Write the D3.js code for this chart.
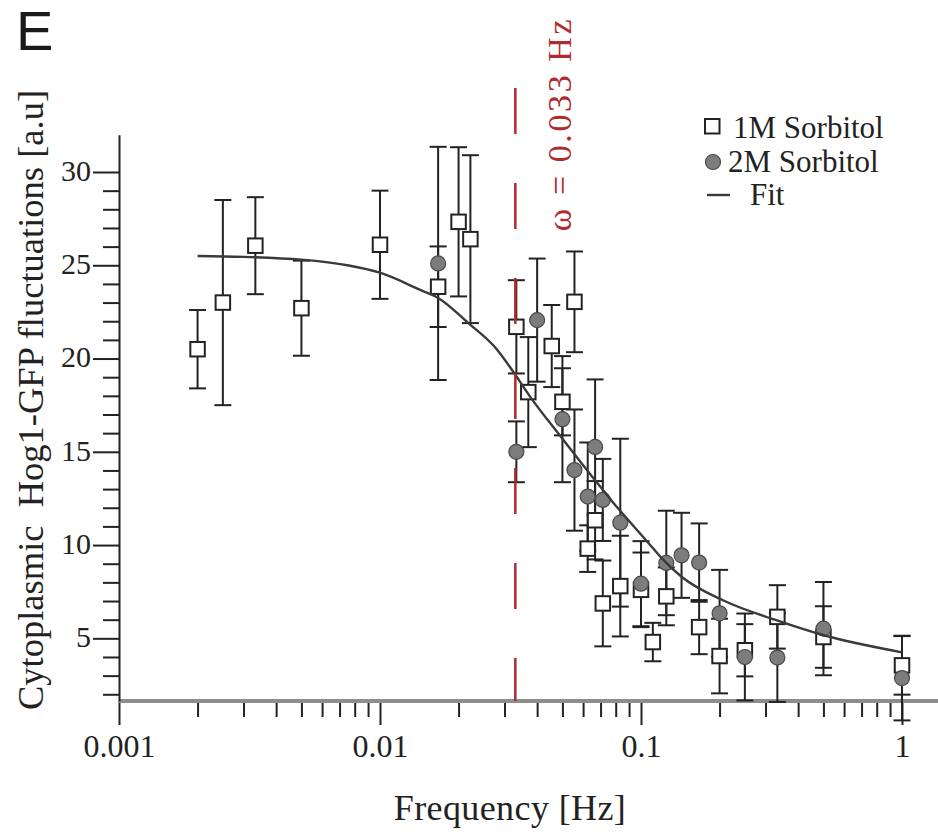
<!DOCTYPE html>
<html>
<head>
<meta charset="utf-8">
<script src="https://cdn.jsdelivr.net/npm/d3@7"></script>
<style>
  html, body { margin: 0; padding: 0; background: #fff; }
  svg { display: block; }
</style>
</head>
<body>
<svg id="chart" width="938" height="833"></svg>
<script>
// Hog1-GFP fluctuation amplitude versus stimulation frequency

// 1M sorbitol: frequency [Hz], mean, error
const freq1M = [0.002, 0.0025, 0.00333, 0.005, 0.01, 0.0167, 0.02, 0.0222, 0.0333, 0.037,
                0.0455, 0.05, 0.0556, 0.0625, 0.0667, 0.0714, 0.0833, 0.1, 0.111, 0.125,
                0.167, 0.2, 0.25, 0.333, 0.5, 1];
const mean1M = [20.5, 23.0, 26.05, 22.7, 26.1, 23.85, 27.33, 26.4, 21.7, 18.2,
                20.67, 17.68, 23.04, 9.81, 11.33, 6.87, 7.8, 7.6, 4.8, 7.25,
                5.6, 4.05, 4.36, 6.15, 5.07, 3.55];
const err1M  = [2.1, 5.5, 2.6, 2.55, 2.9, 2.16, 4.0, 4.5, 2.5, 2.95,
                2.2, 1.8, 2.7, 1.25, 2.1, 2.3, 2.7, 2.0, 1.03, 1.55,
                1.45, 2.0, 1.4, 1.7, 1.65, 1.57];

// 2M sorbitol: frequency [Hz], mean, error
const freq2M = [0.0167, 0.0333, 0.04, 0.05, 0.0556, 0.0625, 0.0667, 0.0714, 0.0833, 0.1,
                0.125, 0.143, 0.167, 0.2, 0.25, 0.333, 0.5, 1];
const mean2M = [25.1, 15.0, 22.06, 16.75, 14.02, 12.6, 15.26, 12.42, 11.2, 7.93,
                9.04, 9.45, 9.06, 6.34, 4.0, 3.97, 5.52, 2.87];
const err2M  = [6.25, 1.63, 3.3, 3.38, 3.25, 2.9, 3.62, 2.2, 4.5, 2.28,
                2.8, 2.28, 2.1, 2.33, 2.33, 2.38, 2.5, 2.27];

// fitted response curve
const fitFreq  = [0.002, 0.003, 0.005, 0.0075, 0.01, 0.0144, 0.0167, 0.0218, 0.028, 0.032,
                  0.0374, 0.05, 0.0656, 0.078, 0.107, 0.12, 0.143, 0.209, 0.3255, 0.506, 1.0];
const fitValue = [25.5, 25.45, 25.3, 25.0, 24.6, 23.65, 23.25, 21.9, 20.5, 19.4,
                  18.0, 15.7, 13.6, 12.3, 10.1, 9.3, 8.3, 7.0, 6.0, 5.15, 4.25];

// cutoff frequency
const omega = 0.033;

// axis ticks
const xMajorTicks = [0.001, 0.01, 0.1, 1];
const xTickLabels = ["0.001", "0.01", "0.1", "1"];
const yMajorTicks = [5, 10, 15, 20, 25, 30];
const yMinorTicks = [2, 3, 4, 6, 7, 8, 9, 11, 12, 13, 14, 16, 17, 18, 19, 21, 22, 23, 24, 26, 27, 28, 29];

const legendLabels = ["1M Sorbitol", "2M Sorbitol", "Fit"];

const W = 938, H = 833;
const serif = "'Liberation Serif', 'Times New Roman', serif";
const ink = "#222";

const svg = d3.select("#chart");

const x = d3.scaleLog().domain([0.001, 1]).range([119, 902]);
const y = d3.scaleLinear().domain([1.64, 32]).range([701, 134.7]);

const xMinorTicks = [];
[0.001, 0.01, 0.1].forEach(d => { for (let k = 2; k <= 9; k++) xMinorTicks.push(d * k); });

// ---- x axis ----
const xAxisG = svg.append("g").attr("transform", `translate(0,${y.range()[0]})`);
xAxisG.append("g")
  .call(d3.axisBottom(x).tickValues(xMinorTicks).tickSize(16).tickSizeOuter(0).tickFormat(""))
  .call(g => g.select(".domain").remove());
xAxisG.append("g")
  .call(d3.axisBottom(x).tickValues(xMajorTicks).tickSize(24).tickSizeOuter(0)
        .tickFormat((d, i) => xTickLabels[i]))
  .call(g => g.select(".domain").remove())
  .call(g => g.selectAll("text")
      .attr("y", 56).attr("dy", 0)
      .attr("font-family", serif).attr("font-size", 32).attr("fill", ink));
xAxisG.selectAll(".tick line").attr("stroke", ink).attr("stroke-width", 2);
xAxisG.append("line")
  .attr("x1", x.range()[0]).attr("x2", W)
  .attr("y1", 0).attr("y2", 0)
  .attr("stroke", "#8d8d8d").attr("stroke-width", 4);

// ---- y axis ----
const yAxisG = svg.append("g").attr("transform", `translate(${x.range()[0]},0)`);
yAxisG.append("g")
  .call(d3.axisLeft(y).tickValues(yMinorTicks).tickSize(16).tickSizeOuter(0).tickFormat(""))
  .call(g => g.select(".domain").attr("stroke", ink).attr("stroke-width", 2));
yAxisG.append("g")
  .call(d3.axisLeft(y).tickValues(yMajorTicks).tickSize(26).tickSizeOuter(0))
  .call(g => g.select(".domain").remove())
  .call(g => g.selectAll("text")
      .attr("x", -28).attr("dy", "0.28em")
      .attr("font-family", serif).attr("font-size", 30).attr("fill", ink));
yAxisG.selectAll(".tick line").attr("stroke", ink).attr("stroke-width", 2);

// ---- axis titles ----
svg.append("text")
  .attr("x", 510).attr("y", 820)
  .attr("text-anchor", "middle")
  .attr("font-family", serif).attr("font-size", 36).attr("fill", ink)
  .attr("letter-spacing", 0.4)
  .text("Frequency [Hz]");

svg.append("text")
  .attr("transform", "translate(43,400) rotate(-90)")
  .attr("text-anchor", "middle")
  .attr("font-family", serif).attr("font-size", 36.5).attr("fill", ink)
  .style("white-space", "pre")
  .text("Cytoplasmic  Hog1-GFP fluctuations [a.u]");

svg.append("text")
  .attr("x", 16).attr("y", 50)
  .attr("font-family", "'Liberation Sans', Arial, sans-serif")
  .attr("font-size", 56).attr("fill", "#1a1a1a")
  .text("E");

// ---- data ----
const rows1M = freq1M.map((f, i) => ({ f, v: mean1M[i], e: err1M[i] }));
const rows2M = freq2M.map((f, i) => ({ f, v: mean2M[i], e: err2M[i] }));

function errorBars(rows) {
  const g = svg.append("g").attr("stroke", ink).attr("stroke-width", 2).attr("fill", "none");
  const cap = 8.5;
  g.selectAll("line.stem").data(rows).join("line").attr("class", "stem")
    .attr("x1", d => x(d.f)).attr("x2", d => x(d.f))
    .attr("y1", d => y(d.v + d.e)).attr("y2", d => y(d.v - d.e));
  g.selectAll("line.top").data(rows).join("line").attr("class", "top")
    .attr("x1", d => x(d.f) - cap).attr("x2", d => x(d.f) + cap)
    .attr("y1", d => y(d.v + d.e)).attr("y2", d => y(d.v + d.e));
  g.selectAll("line.bot").data(rows).join("line").attr("class", "bot")
    .attr("x1", d => x(d.f) - cap).attr("x2", d => x(d.f) + cap)
    .attr("y1", d => y(d.v - d.e)).attr("y2", d => y(d.v - d.e));
}
errorBars(rows1M);
errorBars(rows2M);

const sq = 14.5;
svg.append("g").selectAll("rect").data(rows1M).join("rect")
  .attr("x", d => x(d.f) - sq / 2).attr("y", d => y(d.v) - sq / 2)
  .attr("width", sq).attr("height", sq)
  .attr("fill", "#fff").attr("stroke", ink).attr("stroke-width", 2);

svg.append("g").selectAll("circle").data(rows2M).join("circle")
  .attr("cx", d => x(d.f)).attr("cy", d => y(d.v)).attr("r", 7.5)
  .attr("fill", "#7c7c7c").attr("stroke", "#4a4a4a").attr("stroke-width", 1.2);

// fit curve
const fitRows = fitFreq.map((f, i) => ({ f, v: fitValue[i] }));
svg.append("path")
  .datum(fitRows)
  .attr("fill", "none").attr("stroke", "#3a3a3a").attr("stroke-width", 2.4)
  .attr("d", d3.line().x(d => x(d.f)).y(d => y(d.v)).curve(d3.curveMonotoneX));

// cutoff marker
const red = "#b02a30";
svg.append("line")
  .attr("x1", x(omega)).attr("x2", x(omega))
  .attr("y1", y(34.5)).attr("y2", y.range()[0])
  .attr("stroke", red).attr("stroke-width", 2.5)
  .attr("stroke-dasharray", "46,49");
svg.append("text")
  .attr("transform", `translate(${x(omega) + 56},124) rotate(-90)`)
  .attr("text-anchor", "middle")
  .attr("font-family", serif).attr("font-size", 34).attr("fill", red)
  .attr("letter-spacing", 2.6)
  .text(`ω = ${omega} Hz`);

// ---- legend ----
const lg = svg.append("g").attr("font-family", serif).attr("font-size", 31).attr("fill", ink);
lg.append("rect").attr("x", 705).attr("y", 119).attr("width", sq).attr("height", sq)
  .attr("fill", "#fff").attr("stroke", ink).attr("stroke-width", 2);
lg.append("text").attr("x", 733).attr("y", 138).text(legendLabels[0]);
lg.append("circle").attr("cx", 713).attr("cy", 162).attr("r", 7.5)
  .attr("fill", "#7c7c7c").attr("stroke", "#4a4a4a").attr("stroke-width", 1.2);
lg.append("text").attr("x", 728).attr("y", 172).text(legendLabels[1]);
lg.append("line").attr("x1", 707).attr("x2", 730).attr("y1", 195).attr("y2", 195)
  .attr("stroke", "#3a3a3a").attr("stroke-width", 2.4);
lg.append("text").attr("x", 750).attr("y", 205).text(legendLabels[2]);
</script>
</body>
</html>
